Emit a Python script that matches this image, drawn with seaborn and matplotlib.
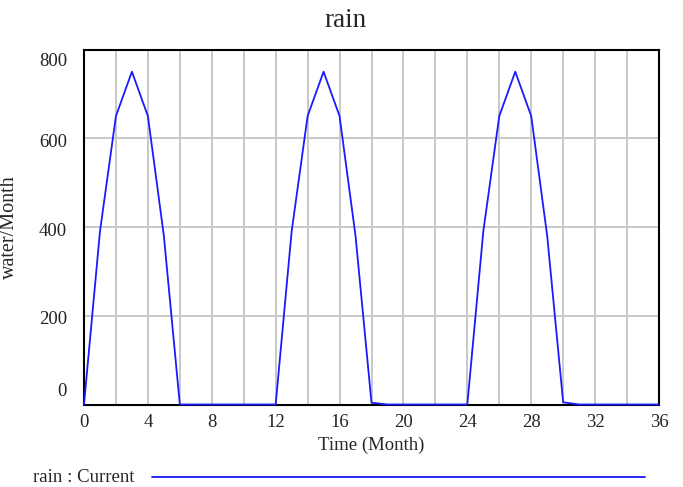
import matplotlib
matplotlib.use("Agg")
import matplotlib.pyplot as plt
from matplotlib.lines import Line2D
import seaborn as sns
import pandas as pd

# Monthly rain inflow over three years
months = list(range(0, 37))
rain = [0, 390, 650, 750, 650, 380, 0, 0, 0, 0, 0, 0,
        0, 390, 650, 750, 650, 380, 4, 0, 0, 0, 0, 0,
        0, 390, 650, 750, 650, 380, 5, 0, 0, 0, 0, 0, 0]
x_ticks = [0, 4, 8, 12, 16, 20, 24, 28, 32, 36]
x_grid = list(range(0, 37, 2))
y_ticks = [0, 200, 400, 600, 800]
series_name = "rain"
run_name = "Current"

sns.set_style("white")
plt.rcParams["font.family"] = ["Liberation Serif", "DejaVu Serif"]

df = pd.DataFrame({"Time": months, "rain": rain})

fig = plt.figure(figsize=(6.83, 4.87), dpi=100)
ax = fig.add_axes([84 / 683, 1 - 404.5 / 487, 575 / 683, 355 / 487])

grid_kw = dict(color="#c8c8c8", lw=1.4, zorder=1)
for gx in x_grid:
    ax.axvline(gx, **grid_kw)
for gy in y_ticks[1:-1]:
    ax.axhline(gy, **grid_kw)

sns.lineplot(data=df, x="Time", y="rain", ax=ax, color="#1a1aff",
             lw=1.3, zorder=5, clip_on=False)

ax.set_xlim(0, 36)
ax.set_ylim(0, 800)
ax.set_xticks(x_ticks)
ax.set_xticklabels([str(t) for t in x_ticks])
ax.tick_params(axis="x", length=0, pad=7, labelsize=13.5)
ax.set_yticks(y_ticks)
ax.set_yticklabels([])
ax.tick_params(axis="y", length=0)

# y tick labels, nudged the way the simulation tool lays them out
nudges = {0: 13, 200: -4, 400: -5, 600: -4, 800: -12}
for v in y_ticks:
    ax.annotate(str(v), xy=(0, v), xycoords=("axes fraction", "data"),
                xytext=(-17, nudges[v]), textcoords="offset pixels",
                ha="right", va="center", fontsize=13.5, color="#222222")

for s in ax.spines.values():
    s.set_color("black")
    s.set_linewidth(1.5)
    s.set_zorder(3)

fig.text(346 / 683, 1 - 27 / 487, series_name, fontsize=19.5,
         ha="center", va="baseline")
ax.set_xlabel("Time (Month)", fontsize=13.5)
ax.set_ylabel("water/Month", fontsize=14.5)
ax.xaxis.set_label_coords(0.499, -0.0915)
ax.yaxis.set_label_coords(-0.113, 0.5)

# legend row under the plot
ly = 1 - 477 / 487
fig.text(33 / 683, ly, f"{series_name} : {run_name}", fontsize=13.5,
         ha="left", va="center")
fig.add_artist(Line2D([152 / 683, 645 / 683], [ly, ly], color="#1a1aff",
                      lw=1.3, transform=fig.transFigure))

fig.savefig("out.png", dpi=100)
